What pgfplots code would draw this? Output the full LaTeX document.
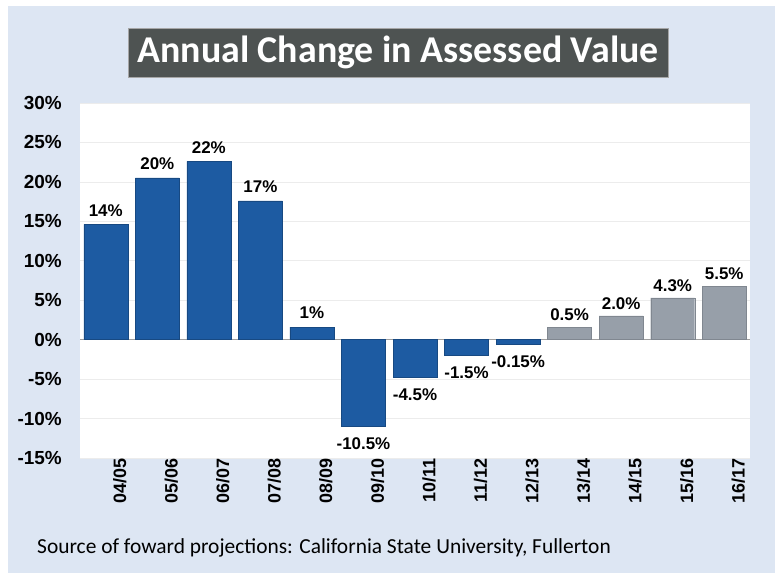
\documentclass[border=0pt]{standalone}
\usepackage{pgfplots}
\pgfplotsset{compat=1.18}
\usepackage{fontspec}
\setmainfont{Liberation Sans}
\newfontfamily\carlito{Carlito}
\definecolor{bgblue}{HTML}{DDE6F3}
\definecolor{barblue}{HTML}{1D5BA2}
\definecolor{bargray}{HTML}{979FA9}
\definecolor{titlegray}{HTML}{4E5352}
\begin{document}
\begin{tikzpicture}[x=1bp,y=1bp]
\fill[white] (0,0) rectangle (775,573);
\fill[bgblue] (8,0) rectangle (775,567);
\node[fill=titlegray, draw=gray!70, line width=0.8bp, text=white, minimum width=540bp, minimum height=49bp, inner sep=0pt,
      font=\carlito\bfseries\fontsize{38}{42}\selectfont] at (398,520.5) {Annual Change in Assessed Value};
\node[anchor=west, inner sep=0pt, font=\carlito\fontsize{21.5}{25}\selectfont] at (37,25) {Source of foward projections: California State University, Fullerton};
\begin{axis}[
  at={(80bp,115bp)}, anchor=south west,
  scale only axis, width=670bp, height=355bp,
  xmin=-0.5, xmax=12.5, ymin=-15, ymax=30,
  axis line style={draw=none},
  axis background/.style={fill=white},
  major tick length=0pt,
  ybar, bar width=44bp,
  xtick={0,...,12},
  xticklabels={04/05,05/06,06/07,07/08,08/09,09/10,10/11,11/12,12/13,13/14,14/15,15/16,16/17},
  xticklabel style={rotate=90, anchor=east, inner sep=0pt, yshift=-14bp, font=\bfseries\fontsize{18}{21}\selectfont},
  ytick={-15,-10,...,30},
  yticklabels={-15\%,-10\%,-5\%,0\%,5\%,10\%,15\%,20\%,25\%,30\%},
  yticklabel style={anchor=east, inner sep=0pt, xshift=-18bp, font=\bfseries\fontsize{19}{22}\selectfont},
  ymajorgrids, major grid style={gray!15, line width=0.6bp},
  extra y ticks={0}, extra y tick labels={},
  extra y tick style={grid=major, major grid style={gray!75, line width=1.2bp}},
  point meta=explicit symbolic,
  nodes near coords,
  every node near coord/.append style={font=\bfseries\fontsize{17}{20}\selectfont, inner sep=2pt},
  clip=false,
]
% positive blue bars (labels above)
\addplot[fill=barblue, draw=barblue!80!black, bar shift=0pt,
  every node near coord/.append style={anchor=south, yshift=6bp}] coordinates {
  (0,14.6) [14\%]
  (1,20.5) [20\%]
  (2,22.6) [22\%]
  (3,17.6) [17\%]
  (4,1.6) [1\%]
};
% negative blue bars (labels below)
\addplot[fill=barblue, draw=barblue!80!black, bar shift=0pt,
  every node near coord/.append style={anchor=north, yshift=-9bp}] coordinates {
  (5,-11.0) [-10.5\%]
  (6,-4.8) [-4.5\%]
  (7,-2.0) [-1.5\%]
  (8,-0.6) [-0.15\%]
};
% projected gray bars
\addplot[fill=bargray, draw=bargray!85!black, bar shift=0pt,
  every node near coord/.append style={anchor=south, yshift=4bp}] coordinates {
  (9,1.6) [0.5\%]
  (10,3.0) [2.0\%]
  (11,5.3) [4.3\%]
  (12,6.8) [5.5\%]
};
\end{axis}
\end{tikzpicture}
\end{document}
